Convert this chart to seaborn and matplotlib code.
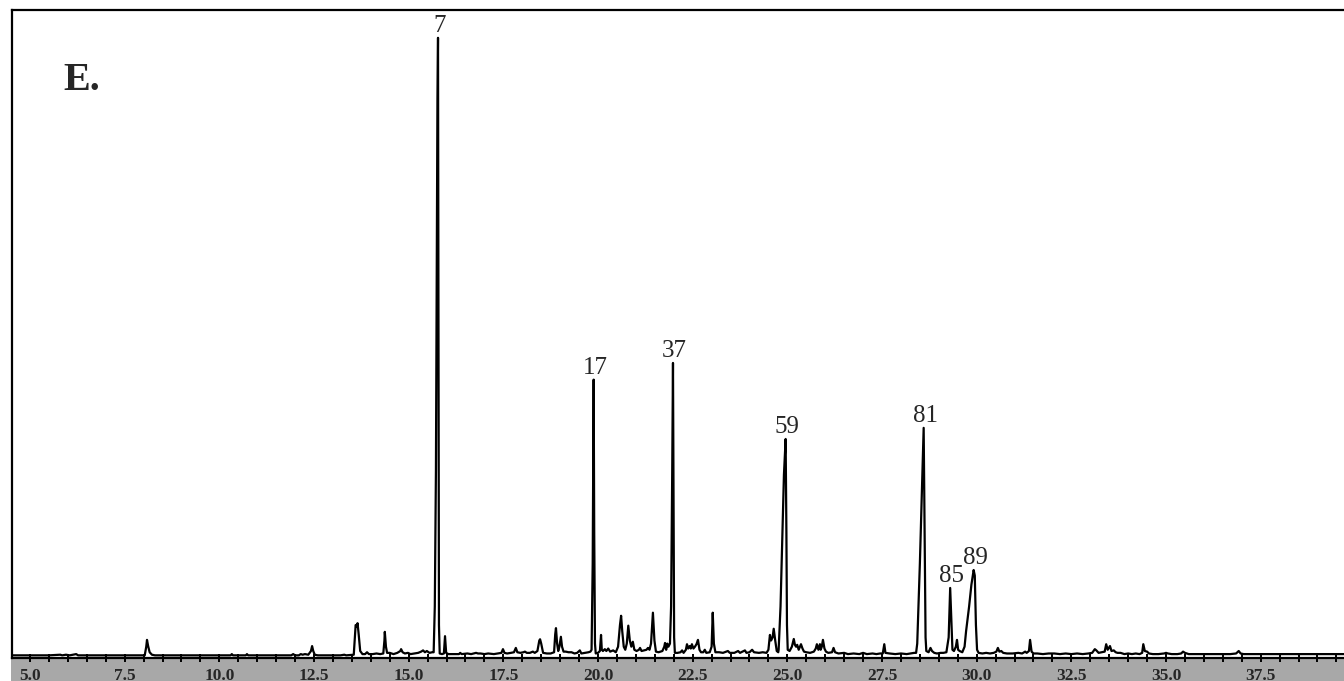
import matplotlib
matplotlib.use("Agg")
import matplotlib.pyplot as plt
from matplotlib.ticker import MultipleLocator, FormatStrFormatter
from matplotlib.patches import Rectangle
import numpy as np
import pandas as pd
import seaborn as sns

# Retention time (min) and relative abundance (%) of the chromatogram trace
rt = [
    4.55, 5.50, 5.80, 5.85, 5.95, 6.05, 6.22, 6.27, 7.00, 7.80,
    8.03, 8.07, 8.09, 8.12, 8.16, 8.22, 8.30,
    9.50, 10.30, 10.33, 10.36, 10.70, 10.73, 10.76, 11.90, 11.95, 12.00, 12.10,
    12.15, 12.20, 12.26, 12.35, 12.42, 12.45, 12.48, 12.52, 12.60,
    13.20, 13.30, 13.35, 13.55,
    13.58, 13.60, 13.63, 13.65, 13.68, 13.72, 13.78, 13.85, 13.90, 13.95, 14.05,
    14.15, 14.25, 14.33, 14.36, 14.37, 14.40, 14.43, 14.50, 14.60, 14.70, 14.78,
    14.80, 14.84, 14.90, 14.98, 15.05, 15.15, 15.25, 15.33, 15.38, 15.43, 15.48,
    15.55, 15.62,
    15.66, 15.69, 15.72, 15.76, 15.775, 15.79, 15.80, 15.82,
    15.88, 15.93, 15.96, 15.99, 16.05, 16.20, 16.33, 16.36, 16.40, 16.55, 16.65,
    16.78, 16.83, 16.90, 17.00, 17.10, 17.25, 17.35, 17.45, 17.49, 17.53, 17.60,
    17.70, 17.78, 17.83, 17.87, 17.95, 18.03, 18.07, 18.12, 18.20, 18.28, 18.33,
    18.40, 18.45, 18.47, 18.50, 18.52, 18.55, 18.65, 18.75, 18.84, 18.87, 18.89,
    18.92, 18.95, 18.98, 19.02, 19.05, 19.09, 19.15, 19.22, 19.30, 19.38, 19.45,
    19.52, 19.56, 19.65, 19.75, 19.80,
    19.83, 19.86, 19.885, 19.90, 19.92, 19.94,
    20.00, 20.05, 20.08, 20.10, 20.13, 20.18, 20.22, 20.27, 20.32, 20.40, 20.47,
    20.53, 20.58, 20.61, 20.64, 20.68, 20.72, 20.76, 20.80, 20.84, 20.88, 20.92,
    20.96, 21.02, 21.08, 21.11, 21.15, 21.22, 21.28, 21.32, 21.36, 21.40, 21.45,
    21.49, 21.53, 21.60, 21.70, 21.75, 21.77, 21.80, 21.83, 21.86, 21.90,
    21.93, 21.96, 21.98, 21.995, 22.01, 22.03,
    22.10, 22.18, 22.22, 22.26, 22.32, 22.35, 22.38, 22.42, 22.45, 22.48, 22.52,
    22.56, 22.60, 22.64, 22.68, 22.72, 22.78, 22.82, 22.86, 22.95, 23.00, 23.03,
    23.06, 23.10, 23.20, 23.30, 23.43, 23.48, 23.60, 23.70, 23.75, 23.88, 23.92,
    24.00, 24.07, 24.12, 24.25, 24.35, 24.45, 24.50, 24.54, 24.57, 24.61, 24.64,
    24.68, 24.72, 24.76,
    24.77, 24.82, 24.88, 24.91, 24.955, 24.975, 24.99, 25.01,
    25.06, 25.12, 25.17, 25.20, 25.23, 25.26, 25.30, 25.36, 25.40, 25.44, 25.50,
    25.60, 25.70, 25.75, 25.78, 25.82, 25.86, 25.88, 25.91, 25.94, 25.98, 26.02,
    26.08, 26.18, 26.22, 26.26, 26.35, 26.50, 26.60, 26.75, 26.90, 27.00, 27.10,
    27.25, 27.35, 27.45, 27.52, 27.56, 27.59, 27.70, 27.85, 28.00, 28.15, 28.25,
    28.35,
    28.40, 28.43, 28.50, 28.57, 28.60, 28.625, 28.65, 28.67,
    28.73, 28.78, 28.82, 28.88, 28.95, 29.05, 29.12,
    29.20, 29.26, 29.30, 29.33, 29.36, 29.40, 29.45, 29.48, 29.51, 29.55,
    29.62, 29.68, 29.72, 29.80, 29.86, 29.92, 29.95, 29.98, 30.01, 30.05,
    30.15, 30.25, 30.35, 30.45, 30.52, 30.56, 30.60, 30.65, 30.70, 30.80, 30.95,
    31.10, 31.20, 31.28, 31.32, 31.38, 31.41, 31.45, 31.50, 31.60, 31.75, 31.90,
    32.05, 32.20, 32.35, 32.50, 32.65, 32.80, 32.95, 33.05, 33.12, 33.16, 33.22,
    33.30, 33.38, 33.42, 33.46, 33.52, 33.56, 33.62, 33.67, 33.72, 33.80, 33.90,
    34.00, 34.10, 34.20, 34.30, 34.37, 34.40, 34.44, 34.50, 34.55, 34.65, 34.80,
    34.95, 35.00, 35.05, 35.15, 35.30, 35.40, 35.45, 35.50, 35.60, 35.75, 35.90,
    36.05, 36.20, 36.40, 36.55, 36.70, 36.85, 36.92, 36.97, 37.05, 37.25, 37.50,
    37.75, 38.00, 38.30, 38.60, 39.00, 39.40, 39.75,
]

signal = [
    0.1, 0.1, 0.2, 0.1, 0.2, 0.1, 0.3, 0.1, 0.1, 0.1,
    0.1, 1.5, 2.6, 1.6, 0.6, 0.2, 0.1,
    0.1, 0.1, 0.3, 0.1, 0.1, 0.3, 0.1, 0.1, 0.3, 0.1, 0.1,
    0.3, 0.2, 0.3, 0.2, 0.8, 1.6, 0.8, 0.2, 0.1,
    0.1, 0.2, 0.1, 0.2,
    3.0, 5.0, 4.8, 5.3, 3.5, 0.8, 0.3, 0.3, 0.6, 0.3, 0.3,
    0.4, 0.3, 0.4, 2.5, 3.9, 1.5, 0.5, 0.5, 0.3, 0.5, 0.8,
    1.1, 0.6, 0.4, 0.5, 0.3, 0.4, 0.5, 0.7, 0.9, 0.6, 0.8,
    0.5, 0.6,
    0.6, 8.0, 30.0, 90.0, 100.0, 40.0, 5.0, 0.4,
    0.3, 0.4, 3.2, 0.5, 0.3, 0.3, 0.3, 0.5, 0.3, 0.4, 0.3,
    0.5, 0.4, 0.4, 0.3, 0.4, 0.3, 0.4, 0.5, 1.1, 0.5, 0.4,
    0.5, 0.6, 1.3, 0.6, 0.5, 0.6, 0.7, 0.5, 0.5, 0.7, 0.5,
    0.8, 2.5, 2.7, 2.0, 1.4, 0.5, 0.4, 0.4, 0.6, 3.5, 4.5,
    2.0, 0.8, 1.5, 3.1, 1.5, 0.7, 0.7, 0.6, 0.6, 0.4, 0.5,
    0.9, 0.4, 0.5, 0.6, 0.7,
    1.0, 15.0, 44.7, 20.0, 2.0, 0.4,
    0.5, 0.8, 3.4, 1.0, 0.8, 1.1, 0.8, 1.2, 0.7, 0.9, 0.6,
    1.5, 5.0, 6.5, 4.0, 1.5, 1.0, 2.0, 4.9, 2.5, 1.5, 2.3,
    1.0, 0.8, 1.0, 1.3, 0.8, 0.9, 1.0, 1.3, 1.0, 2.0, 7.0,
    2.5, 0.7, 0.6, 0.8, 1.5, 2.1, 1.0, 2.0, 1.5, 2.0,
    8.0, 30.0, 47.4, 25.0, 3.0, 0.5,
    0.5, 0.6, 0.9, 0.5, 1.0, 1.9, 1.2, 1.6, 1.2, 1.9, 1.2,
    1.5, 1.9, 2.6, 1.0, 0.6, 0.6, 1.0, 0.5, 0.6, 1.5, 7.0,
    2.0, 0.6, 0.6, 0.5, 0.8, 0.5, 0.5, 0.8, 0.5, 0.9, 0.5,
    0.6, 1.0, 0.6, 0.5, 0.6, 0.5, 1.0, 3.4, 2.5, 3.0, 4.4,
    2.5, 0.8, 0.6,
    1.0, 8.0, 22.0, 29.3, 35.1, 20.0, 5.0, 1.0,
    0.8, 1.5, 2.75, 1.8, 1.5, 1.8, 1.0, 1.9, 1.2, 0.7, 0.6,
    0.5, 0.7, 1.2, 1.9, 1.0, 1.9, 1.0, 1.5, 2.6, 1.2, 0.7,
    0.5, 0.6, 1.3, 0.6, 0.4, 0.5, 0.3, 0.4, 0.3, 0.5, 0.3,
    0.4, 0.3, 0.4, 0.4, 1.9, 0.5, 0.4, 0.3, 0.4, 0.3, 0.4,
    0.5,
    0.5, 2.0, 15.0, 30.0, 36.9, 20.0, 3.0, 0.8,
    0.6, 1.3, 0.8, 0.5, 0.4, 0.5, 0.5,
    0.6, 3.0, 11.0, 6.0, 1.0, 0.8, 1.5, 2.6, 1.0, 0.8,
    0.6, 1.5, 4.0, 8.0, 11.5, 13.9, 13.0, 5.0, 1.0, 0.5,
    0.4, 0.5, 0.4, 0.5, 0.7, 1.3, 0.7, 0.8, 0.5, 0.4, 0.4,
    0.5, 0.4, 0.7, 0.5, 0.8, 2.6, 0.7, 0.4, 0.4, 0.3, 0.4,
    0.4, 0.3, 0.4, 0.3, 0.4, 0.3, 0.4, 0.5, 1.1, 0.9, 0.5,
    0.6, 0.7, 1.9, 1.0, 1.6, 0.8, 0.9, 0.6, 0.5, 0.5, 0.3,
    0.4, 0.3, 0.4, 0.3, 0.5, 1.9, 0.8, 0.7, 0.4, 0.3, 0.3,
    0.4, 0.5, 0.4, 0.3, 0.3, 0.4, 0.7, 0.5, 0.3, 0.3, 0.3,
    0.3, 0.3, 0.3, 0.3, 0.3, 0.4, 0.8, 0.4, 0.3, 0.3, 0.3,
    0.3, 0.3, 0.3, 0.3, 0.3, 0.3, 0.3,
]

# Numbered compounds and their retention times (min)
peak_ids = ["7", "17", "37", "59", "81", "85", "89"]
peak_rt = [15.775, 19.885, 21.98, 24.955, 28.60, 29.30, 29.92]

panel_label = "E."
x_range = (4.525, 39.70)
y_range = (-0.25, 104.5)

df = pd.DataFrame({"rt": rt, "signal": signal})

sns.set_style("white")
plt.rcParams["font.family"] = ["Liberation Serif", "DejaVu Serif"]

W, H = 1344, 681
fig = plt.figure(figsize=(W / 100, H / 100), dpi=100)
ax = fig.add_axes([12 / W, (H - 657.5) / H, 1 - 12 / W, (657.5 - 10) / H])

# grey band carrying the time scale, kept behind the axes
band = Rectangle((11 / W, 0), 1, (H - 658.5) / H, transform=fig.transFigure,
                 facecolor="#a8a8a8", edgecolor="none", zorder=-5)
fig.patches.append(band)

sns.lineplot(data=df, x="rt", y="signal", ax=ax, color="black",
             linewidth=1.6, estimator=None, sort=False)

ax.set_xlim(*x_range)
ax.set_ylim(*y_range)
ax.set_xlabel("")
ax.set_ylabel("")
ax.set_yticks([])

ax.xaxis.set_major_locator(MultipleLocator(2.5))
ax.xaxis.set_minor_locator(MultipleLocator(0.5))
ax.xaxis.set_major_formatter(FormatStrFormatter("%.1f"))
ax.tick_params(axis="x", which="both", direction="inout", length=6, width=1.4,
               color="black", bottom=True)
ax.tick_params(axis="x", which="major", pad=4.2, labelsize=12.5,
               labelbottom=True)
for lab in ax.get_xticklabels():
    lab.set_fontweight("bold")

for side in ("left", "top", "bottom"):
    ax.spines[side].set_visible(True)
    ax.spines[side].set_color("black")
    ax.spines[side].set_linewidth(1.6)
ax.spines["right"].set_visible(False)

# compound numbers above their peaks
rt_arr = np.asarray(rt)
sig_arr = np.asarray(signal)
for pid, prt in zip(peak_ids, peak_rt):
    idx = int(np.argmin(np.abs(rt_arr - prt)))
    ax.annotate(pid, xy=(rt_arr[idx], sig_arr[idx]), xytext=(1, 4),
                textcoords="offset points", ha="center", va="baseline",
                fontsize=18)

fig.text(63 / W, 1 - 90 / H, panel_label, fontsize=29, fontweight="bold",
         ha="left", va="baseline")

fig.savefig("out.png", dpi=100, facecolor="white")
